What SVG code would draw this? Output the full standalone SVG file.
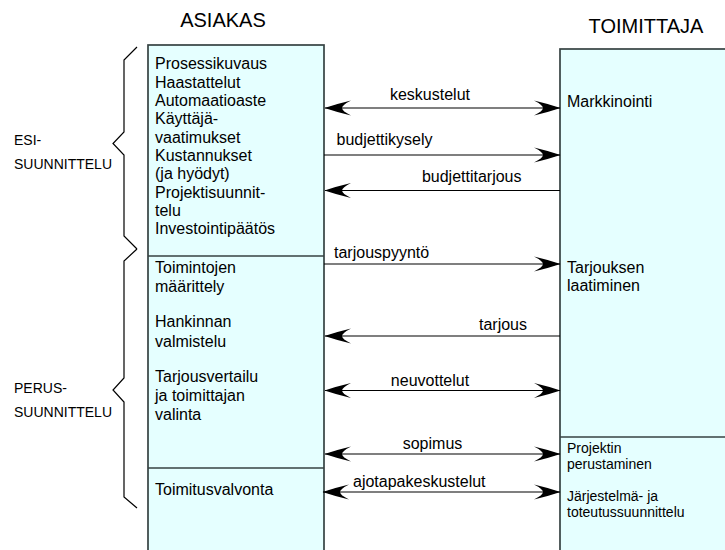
<svg xmlns="http://www.w3.org/2000/svg" width="725" height="550" viewBox="0 0 725 550">
  <style>
    text { font-family: "Liberation Sans", Arial, sans-serif; fill: #000; }
    .head { font-size: 20px; text-anchor: middle; }
    .body { font-size: 16px; }
    .small { font-size: 14px; }
    .phase { font-size: 14px; }
    .lbl { font-size: 16px; }
    .col { fill: #e5ffff; stroke: #364242; stroke-width: 1.7; }
    .div { stroke: #364242; stroke-width: 1.7; fill: none; }
    .msg { stroke: #000; stroke-width: 1.2; fill: none; }
    .brace { stroke: #000; stroke-width: 1.2; fill: none; }
  </style>
  <defs>
    <marker id="head" markerUnits="userSpaceOnUse" markerWidth="30" markerHeight="18" viewBox="-28 -9 30 18" refX="0" refY="0" orient="auto-start-reverse">
      <path d="M0.5,0 Q-12,-4.2 -26,-7.5 Q-17,-3 -17,0 Q-17,3 -26,7.5 Q-12,4.2 0.5,0 Z" fill="#000"/>
    </marker>
  </defs>

  <!-- column headings -->
  <text class="head" x="223" y="27">ASIAKAS</text>
  <text class="head" x="646" y="33">TOIMITTAJA</text>

  <!-- customer column -->
  <g id="asiakas">
    <rect class="col" x="148" y="45" width="176" height="520"/>
    <line class="div" x1="148" y1="256" x2="324" y2="256"/>
    <line class="div" x1="148" y1="468" x2="324" y2="468"/>
  </g>

  <g id="esisuunnittelu-tehtavat">
    <text class="body" x="155" y="69">Prosessikuvaus</text>
    <text class="body" x="155" y="87.5">Haastattelut</text>
    <text class="body" x="155" y="106">Automaatioaste</text>
    <text class="body" x="155" y="124">Käyttäjä-</text>
    <text class="body" x="155" y="142.5">vaatimukset</text>
    <text class="body" x="155" y="161">Kustannukset</text>
    <text class="body" x="155" y="179">(ja hyödyt)</text>
    <text class="body" x="155" y="197.5">Projektisuunnit-</text>
    <text class="body" x="155" y="216">telu</text>
    <text class="body" x="155" y="234">Investointipäätös</text>
  </g>

  <g id="perussuunnittelu-tehtavat">
    <text class="body" x="155" y="273">Toimintojen</text>
    <text class="body" x="155" y="292">määrittely</text>
    <text class="body" x="155" y="327">Hankinnan</text>
    <text class="body" x="155" y="346.5">valmistelu</text>
    <text class="body" x="155" y="381.5">Tarjousvertailu</text>
    <text class="body" x="155" y="400.5">ja toimittajan</text>
    <text class="body" x="155" y="419.5">valinta</text>
  </g>

  <g id="toimitusvalvonta">
    <text class="body" x="155" y="495">Toimitusvalvonta</text>
  </g>

  <!-- supplier column -->
  <g id="toimittaja">
    <rect class="col" x="560" y="49" width="180" height="520"/>
    <line class="div" x1="560" y1="437" x2="740" y2="437"/>
  </g>

  <g id="markkinointi">
    <text class="body" x="567" y="107">Markkinointi</text>
  </g>

  <g id="tarjouksen-laatiminen">
    <text class="body" x="567" y="273">Tarjouksen</text>
    <text class="body" x="567" y="291">laatiminen</text>
  </g>

  <g id="projektin-perustaminen">
    <text class="small" x="567" y="453">Projektin</text>
    <text class="small" x="567" y="468.5">perustaminen</text>
    <text class="small" x="567" y="500.5">Järjestelmä- ja</text>
    <text class="small" x="567" y="516.5">toteutussuunnittelu</text>
  </g>

  <!-- phase braces -->
  <g id="esisuunnittelu">
    <path class="brace" d="M137,47 L124,60 L124,132 L113,143.5 L124,155 L124,236 L137,249"/>
    <text class="phase" x="14" y="145">ESI-</text>
    <text class="phase" x="14" y="169">SUUNNITTELU</text>
  </g>

  <g id="perussuunnittelu">
    <path class="brace" d="M137,249 L124,261 L124,378 L113,390 L124,402 L124,497 L137,508"/>
    <text class="phase" x="14" y="393">PERUS-</text>
    <text class="phase" x="14" y="417">SUUNNITTELU</text>
  </g>

  <!-- messages between customer and supplier -->
  <g id="connectors">
    <line class="msg" x1="325" y1="108" x2="560" y2="108" marker-start="url(#head)" marker-end="url(#head)"/>
    <line class="msg" x1="324" y1="155" x2="560" y2="155" marker-end="url(#head)"/>
    <line class="msg" x1="560" y1="190.5" x2="325" y2="190.5" marker-end="url(#head)"/>
    <line class="msg" x1="324" y1="264" x2="560" y2="264" marker-end="url(#head)"/>
    <line class="msg" x1="560" y1="336" x2="325" y2="336" marker-end="url(#head)"/>
    <line class="msg" x1="325" y1="390.5" x2="560" y2="390.5" marker-start="url(#head)" marker-end="url(#head)"/>
    <line class="msg" x1="325" y1="454" x2="560" y2="454" marker-start="url(#head)" marker-end="url(#head)"/>
    <line class="msg" x1="323" y1="492" x2="560" y2="492" marker-start="url(#head)" marker-end="url(#head)"/>

    <text class="lbl" x="430" y="100" text-anchor="middle">keskustelut</text>
    <text class="lbl" x="336.5" y="145">budjettikysely</text>
    <text class="lbl" x="521.5" y="181.5" text-anchor="end">budjettitarjous</text>
    <text class="lbl" x="334" y="258">tarjouspyyntö</text>
    <text class="lbl" x="527" y="330" text-anchor="end">tarjous</text>
    <text class="lbl" x="430" y="385.5" text-anchor="middle">neuvottelut</text>
    <text class="lbl" x="432.5" y="448.5" text-anchor="middle">sopimus</text>
    <text class="lbl" x="353" y="486.5">ajotapakeskustelut</text>
  </g>
</svg>
